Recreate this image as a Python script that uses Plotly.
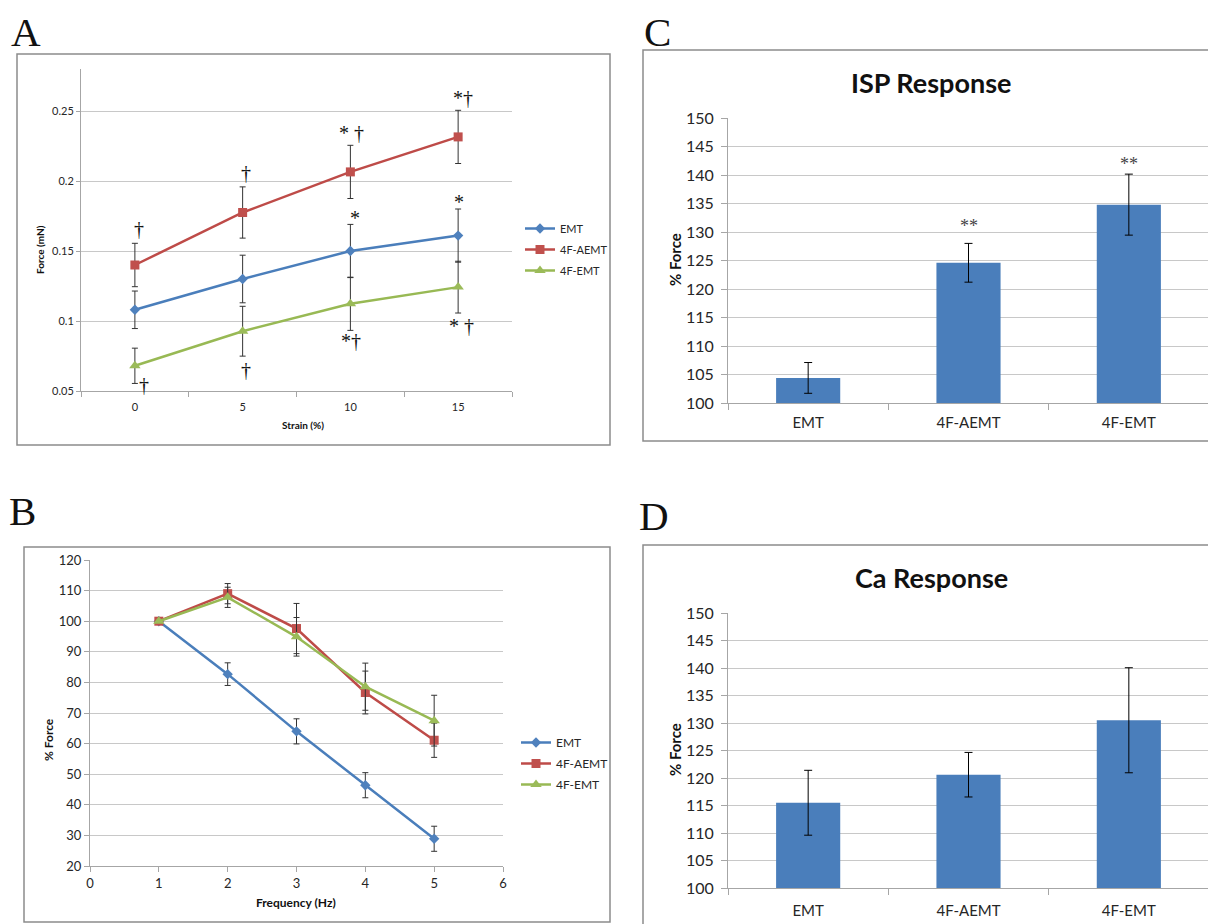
import plotly.graph_objects as go

# page is 1216x924; the browser adds an 8px body margin, so the figure is 8px smaller
OFF = 8
W, H = 1216 - OFF, 924 - OFF

# ---------------- data ----------------
# Panel A: force vs strain
strain = [0, 5, 10, 15]
strain_labels = ['0', '5', '10', '15']
a_emt = [0.108, 0.130, 0.150, 0.161]
a_emt_err = [0.0134, 0.017, 0.019, 0.019]
a_aemt = [0.140, 0.1775, 0.2065, 0.2315]
a_aemt_err = [0.0155, 0.0183, 0.019, 0.019]
a_femt = [0.068, 0.0927, 0.1123, 0.1242]
a_femt_err = [0.0126, 0.0178, 0.019, 0.0185]
a_yticks = [0.05, 0.1, 0.15, 0.2, 0.25]
a_yticktext = ['0.05', '0.1', '0.15', '0.2', '0.25']

# Panel B: % force vs frequency
freq = [1, 2, 3, 4, 5]
b_emt = [100, 82.7, 64.0, 46.4, 28.9]
b_emt_err = [0, 3.7, 4.1, 4.1, 4.1]
b_aemt = [100, 109.0, 97.6, 76.7, 61.1]
b_aemt_err = [0, 3.3, 8.2, 7.0, 5.6]
b_femt = [100, 107.8, 94.9, 78.6, 67.5]
b_femt_err = [0, 3.3, 6.3, 7.7, 8.3]
b_xticks = [0, 1, 2, 3, 4, 5, 6]
b_yticks = [20, 30, 40, 50, 60, 70, 80, 90, 100, 110, 120]

# Panels C, D
groups = ['EMT', '4F-AEMT', '4F-EMT']
isp = [104.4, 124.6, 134.8]
isp_err = [2.7, 3.4, 5.35]
ca = [115.5, 120.6, 130.5]
ca_err = [5.9, 4.05, 9.55]
cd_yticks = [100, 105, 110, 115, 120, 125, 130, 135, 140, 145, 150]

series_names = ['EMT', '4F-AEMT', '4F-EMT']

# significance marks: (series index, category index, text, above?, xshift, yshift)
a_sig = [
    (1, 0, '†', True, 4, 14),
    (1, 1, '†', True, 3, 14),
    (1, 2, '* †', True, 1, 12),
    (1, 3, '*†', True, 5, 12),
    (0, 2, '*', True, 5, 6),
    (0, 3, '*', True, 1, 7),
    (2, 0, '†', False, 9, -2),
    (2, 1, '†', False, 3, -14),
    (2, 2, '*†', False, 1, -11),
    (2, 3, '* †', False, 3, -13),
]
c_sig = [(1, '**', 17), (2, '**', 10)]

# ---------------- style ----------------
LINE_COL = ['#4a7ebb', '#be4b48', '#98b954']
MARK_COL = ['#4f81bd', '#c0504d', '#9bbb59']
SYMBOLS = ['diamond', 'square', 'triangle-up']
MSIZE = [8, 9, 10]
GRID = '#c8c8c8'
AXL = '#a6a6a6'
FRAME = '#8c8c8c'
BAR = '#4a7ebb'
FONT = 'Lato, Open Sans, sans-serif'
SERIF = 'Liberation Serif, Times New Roman, serif'
TXT = '#262626'


def px_x(p):
    return (p - OFF) / W


def px_y(p):
    return 1 - (p - OFF) / H


fig = go.Figure()

# Panel A traces
a_vals = [a_emt, a_aemt, a_femt]
a_errs = [a_emt_err, a_aemt_err, a_femt_err]
for i in range(3):
    fig.add_trace(go.Scatter(
        x=strain, y=a_vals[i], name=series_names[i], mode='lines+markers',
        line=dict(color=LINE_COL[i], width=2.5),
        marker=dict(symbol=SYMBOLS[i], size=MSIZE[i], color=MARK_COL[i]),
        error_y=dict(type='data', array=a_errs[i], color='#333333', thickness=1, width=3),
        xaxis='x', yaxis='y', legend='legend', legendgroup='a%d' % i))

# Panel B traces
b_vals = [b_emt, b_aemt, b_femt]
b_errs = [b_emt_err, b_aemt_err, b_femt_err]
for i in range(3):
    fig.add_trace(go.Scatter(
        x=freq, y=b_vals[i], name=series_names[i], mode='lines+markers',
        line=dict(color=LINE_COL[i], width=2.5),
        marker=dict(symbol=SYMBOLS[i], size=MSIZE[i], color=MARK_COL[i]),
        error_y=dict(type='data', array=b_errs[i], color='#333333', thickness=1, width=3),
        xaxis='x2', yaxis='y2', legend='legend2', legendgroup='b%d' % i))

# Panels C and D bars
fig.add_trace(go.Bar(x=groups, y=[v - 100 for v in isp], base=100, width=0.4,
                     marker=dict(color=BAR, line=dict(width=0)),
                     error_y=dict(type='data', array=isp_err, color='#000000', thickness=1, width=4),
                     xaxis='x3', yaxis='y3', showlegend=False))
fig.add_trace(go.Bar(x=groups, y=[v - 100 for v in ca], base=100, width=0.4,
                     marker=dict(color=BAR, line=dict(width=0)),
                     error_y=dict(type='data', array=ca_err, color='#000000', thickness=1, width=4),
                     xaxis='x4', yaxis='y4', showlegend=False))

common_y = dict(showline=True, linecolor=AXL, linewidth=1, gridcolor=GRID, gridwidth=1,
                showgrid=True, ticks='outside', tickcolor=AXL, zeroline=False, automargin=False)
common_x = dict(showline=True, linecolor=AXL, linewidth=1, showgrid=False, zeroline=False,
                tickcolor=AXL, automargin=False)

layout = dict(
    template='none',
    width=W, height=H, margin=dict(l=0, r=0, t=0, b=0, pad=0, autoexpand=False),
    paper_bgcolor='white', plot_bgcolor='white',
    font=dict(family=FONT, color=TXT),
    barmode='overlay',
    # Panel A axes
    xaxis=dict(domain=[px_x(81), px_x(512)], anchor='y', range=[-2.5, 17.5],
               tickvals=strain, ticktext=strain_labels, ticks='',
               minor=dict(tickvals=[-2.5, 2.5, 7.5, 12.5, 17.5], ticks='outside',
                          ticklen=5, tickcolor=AXL, showgrid=False),
               tickfont=dict(size=11), ticklabelstandoff=6, **common_x),
    yaxis=dict(domain=[px_y(391), px_y(69)], anchor='x', range=[0.05, 0.28],
               tickvals=a_yticks, ticktext=a_yticktext, ticklen=4,
               tickfont=dict(size=11), **common_y),
    # Panel B axes
    xaxis2=dict(domain=[px_x(90), px_x(503)], anchor='y2', range=[0, 6],
                tickvals=b_xticks, ticks='outside', ticklen=5,
                tickfont=dict(size=13), **common_x),
    yaxis2=dict(domain=[px_y(866), px_y(560)], anchor='x2', range=[20, 120],
                tickvals=b_yticks, ticklen=5, tickfont=dict(size=13), **common_y),
    # Panel C axes
    xaxis3=dict(domain=[px_x(728), px_x(1209)], anchor='y3', type='category',
                tickson='boundaries', ticks='outside', ticklen=6,
                tickfont=dict(size=15), ticklabelstandoff=6, **common_x),
    yaxis3=dict(domain=[px_y(403), px_y(118)], anchor='x3', range=[100, 150],
                tickvals=cd_yticks, ticklen=6, ticklabelstandoff=4,
                tickfont=dict(size=16), **common_y),
    # Panel D axes
    xaxis4=dict(domain=[px_x(728), px_x(1209)], anchor='y4', type='category',
                tickson='boundaries', ticks='outside', ticklen=6,
                tickfont=dict(size=15), ticklabelstandoff=9, **common_x),
    yaxis4=dict(domain=[px_y(888), px_y(613)], anchor='x4', range=[100, 150],
                tickvals=cd_yticks, ticklen=6, ticklabelstandoff=4,
                tickfont=dict(size=16), **common_y),
    legend=dict(x=px_x(520), y=px_y(214), xanchor='left', yanchor='top',
                font=dict(size=11, color=TXT), itemwidth=30, tracegroupgap=2,
                bgcolor='rgba(0,0,0,0)'),
    legend2=dict(x=px_x(516), y=px_y(728), xanchor='left', yanchor='top',
                 font=dict(size=12, color=TXT), itemwidth=30, tracegroupgap=2,
                 bgcolor='rgba(0,0,0,0)'),
)
fig.update_layout(**layout)

# panel frames
frames = [(17, 54, 610, 445), (24, 547, 610, 922), (643, 50, 1230, 441), (643, 545, 1230, 940)]
for x0, y0, x1, y1 in frames:
    fig.add_shape(type='rect', xref='paper', yref='paper',
                  x0=px_x(x0), x1=px_x(x1), y0=px_y(y1), y1=px_y(y0),
                  line=dict(color=FRAME, width=1.5), layer='below')

ann = []
# panel letters
for txt, x, y in [('A', 26, 32), ('B', 23, 511), ('C', 657, 32), ('D', 654, 516)]:
    ann.append(dict(text=txt, x=px_x(x), y=px_y(y), xref='paper', yref='paper',
                    showarrow=False, xanchor='center', yanchor='middle', borderpad=0,
                    font=dict(family=SERIF, size=41, color='#111111')))
# axis titles
for txt, x, y, size, rot in [('Force (mN)', 40, 250, 10, -90), ('Strain (%)', 303, 425, 10, 0),
                             ('% Force', 48, 740, 12, -90), ('Frequency (Hz)', 296, 902, 12, 0),
                             ('% Force', 675, 260, 15, -90), ('% Force', 675, 750, 15, -90)]:
    ann.append(dict(text='<b>%s</b>' % txt, x=px_x(x), y=px_y(y), xref='paper', yref='paper',
                    showarrow=False, xanchor='center', yanchor='middle', textangle=rot,
                    font=dict(size=size, color='#111111')))
# chart titles
for txt, x, y in [('ISP Response', 931, 82), ('Ca Response', 931, 577)]:
    ann.append(dict(text='<b>%s</b>' % txt, x=px_x(x), y=px_y(y), xref='paper', yref='paper',
                    showarrow=False, xanchor='center', yanchor='middle',
                    font=dict(size=27, color='#111111')))
# significance marks in panel A
for s, k, txt, above, dx, dy in a_sig:
    yv = a_vals[s][k] + a_errs[s][k] if above else a_vals[s][k] - a_errs[s][k]
    ann.append(dict(text=txt, x=strain[k], y=yv, xref='x', yref='y', showarrow=False,
                    xanchor='center', yanchor='middle', xshift=dx, yshift=dy,
                    font=dict(family=SERIF, size=20, color='#111111')))
# significance marks in panel C
for k, txt, dy in c_sig:
    ann.append(dict(text=txt, x=groups[k], y=isp[k] + isp_err[k], xref='x3', yref='y3',
                    showarrow=False, xanchor='center', yanchor='middle', yshift=dy,
                    font=dict(family=SERIF, size=18, color='#444444')))
fig.update_layout(annotations=ann)

fig.write_html('out.html')
